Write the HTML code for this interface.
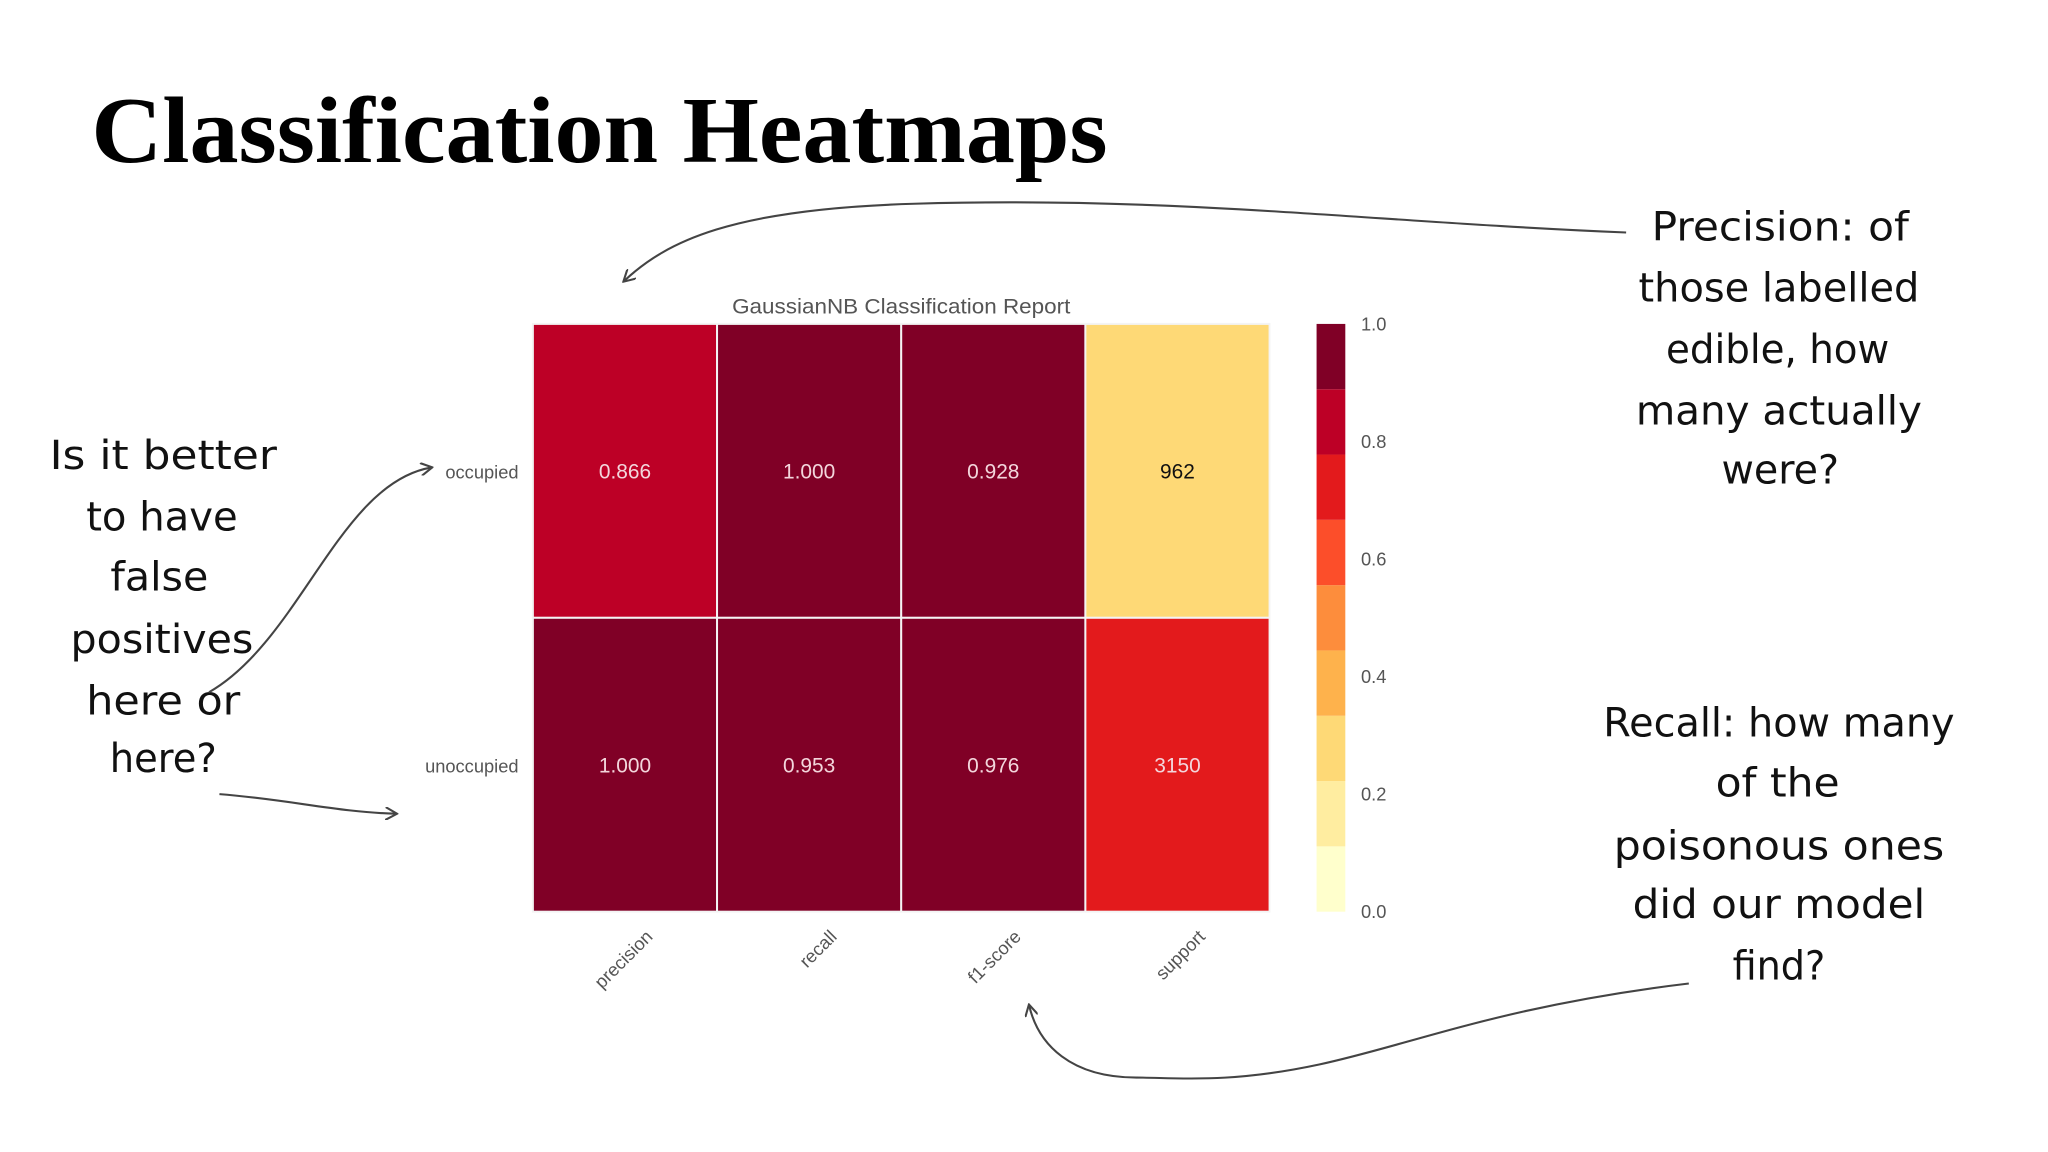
<!DOCTYPE html>
<html><head><meta charset="utf-8"><style>
html,body{margin:0;padding:0;background:#fff;}
svg{display:block;}
.hand{font-family:"DejaVu Sans","Liberation Sans",sans-serif;font-size:31px;fill:#fff;stroke:#111;stroke-width:0;}
.hand text{fill:#111;}
.ax{font-family:"Liberation Sans",sans-serif;fill:#555;}
</style></head><body>
<svg id="page" width="2048" height="1152" viewBox="0 0 1568 882" xmlns="http://www.w3.org/2000/svg">
<defs><marker id="ah" markerWidth="10" markerHeight="10" refX="8" refY="5" orient="auto" markerUnits="userSpaceOnUse"><path d="M0,0 L9,5 L0,10" fill="none" stroke="#444" stroke-width="1.6"/></marker></defs>
<text x="70" y="124" font-family="'Liberation Serif',serif" font-weight="bold" font-size="72" textLength="778" lengthAdjust="spacingAndGlyphs" fill="#000">Classification Heatmaps</text>

<g class="hand" text-anchor="middle">
<text x="1363" y="184" textLength="197" lengthAdjust="spacingAndGlyphs">Precision: of</text>
<text x="1362" y="231" textLength="215" lengthAdjust="spacingAndGlyphs">those labelled</text>
<text x="1361" y="278" textLength="171" lengthAdjust="spacingAndGlyphs">edible, how</text>
<text x="1362" y="325" textLength="219" lengthAdjust="spacingAndGlyphs">many actually</text>
<text x="1363" y="370" textLength="90" lengthAdjust="spacingAndGlyphs">were?</text>
</g>
<g class="hand" text-anchor="middle">
<text x="125" y="359" textLength="174" lengthAdjust="spacingAndGlyphs">Is it better</text>
<text x="124" y="406" textLength="116" lengthAdjust="spacingAndGlyphs">to have</text>
<text x="122" y="452" textLength="75" lengthAdjust="spacingAndGlyphs">false</text>
<text x="124" y="500" textLength="140" lengthAdjust="spacingAndGlyphs">positives</text>
<text x="125" y="547" textLength="118" lengthAdjust="spacingAndGlyphs">here or</text>
<text x="125" y="591" textLength="82" lengthAdjust="spacingAndGlyphs">here?</text>
</g>
<g class="hand" text-anchor="middle">
<text x="1362" y="564" textLength="269" lengthAdjust="spacingAndGlyphs">Recall: how many</text>
<text x="1361" y="610" textLength="95" lengthAdjust="spacingAndGlyphs">of the</text>
<text x="1362" y="658" textLength="253" lengthAdjust="spacingAndGlyphs">poisonous ones</text>
<text x="1362" y="703" textLength="224" lengthAdjust="spacingAndGlyphs">did our model</text>
<text x="1362" y="750" textLength="71" lengthAdjust="spacingAndGlyphs">find?</text>
</g>
<g fill="none" stroke="#444" stroke-width="1.6">
<path d="M1245,178 C1050,170 900,150 700,156 C560,160 510,185 478,215" marker-end="url(#ah)"/>
<path d="M160,530 C230,490 260,370 330,358" marker-end="url(#ah)"/>
<path d="M168,608 C220,612 260,622 303,623" marker-end="url(#ah)"/>
<path d="M1293,753 C1150,770 1080,800 1010,815 C940,830 900,825 870,825 C820,825 795,800 788,770" marker-end="url(#ah)"/>
</g>
<g id="chart"></g>
</svg>
<script>
const classes = ["occupied", "unoccupied"];
const metrics = ["precision", "recall", "f1-score", "support"];
const precisionVals = [0.866, 1.000];
const recallVals = [1.000, 0.953];
const f1Vals = [0.928, 0.976];
const supportVals = [962, 3150];
const cbTicks = ["0.0", "0.2", "0.4", "0.6", "0.8", "1.0"];
const palette = ["#ffffcc","#ffeda0","#fed976","#feb24c","#fd8d3c","#fc4e2a","#e31a1c","#bd0026","#800026"];
const supportScaleMax = 4300;

const NS = "http://www.w3.org/2000/svg";
const g = document.getElementById("chart");
const X0 = 408, X1 = 972, Y0 = 248, Y1 = 698;
const CB0 = 1008, CB1 = 1030;
const xPos = i => X0 + (X1 - X0) * i / metrics.length;
const yPos = j => Y0 + (Y1 - Y0) * j / classes.length;
const cbY = v => Y1 - (Y1 - Y0) * v;
function colorOf(v){ let k = Math.floor(v * palette.length); if (k >= palette.length) k = palette.length - 1; if (k < 0) k = 0; return palette[k]; }
function mk(tag, attrs, txt){ const e = document.createElementNS(NS, tag); for (const k in attrs) e.setAttribute(k, attrs[k]); if (txt !== undefined) e.textContent = txt; g.appendChild(e); return e; }

let t = mk("text", {x: 690, y: 240, "text-anchor": "middle", "font-size": 16, class: "ax", textLength: 259, lengthAdjust: "spacingAndGlyphs"}, "GaussianNB Classification Report");



const series = [precisionVals, recallVals, f1Vals, supportVals];
for (let j = 0; j < classes.length; j++) {
  for (let i = 0; i < metrics.length; i++) {
    const raw = series[i][j];
    const norm = i === 3 ? raw / supportScaleMax : raw;
    const c = colorOf(norm);
    const r = mk("rect", {x: xPos(i), y: yPos(j), width: xPos(i + 1) - xPos(i), height: yPos(j + 1) - yPos(j), fill: c, stroke: "#f4f4f4", "stroke-width": 1.5});
    
    
    const label = i === 3 ? String(raw) : raw.toFixed(3);
    const tx = mk("text", {x: (xPos(i) + xPos(i + 1)) / 2, y: (yPos(j) + yPos(j + 1)) / 2 + 6, "text-anchor": "middle", "font-size": 16, "font-family": "Liberation Sans, sans-serif", fill: norm < 0.45 ? "#111" : "#f3d6dc"}, label);
    
    
  }
  const yl = mk("text", {x: 397, y: (yPos(j) + yPos(j + 1)) / 2 + 6, "text-anchor": "end", "font-size": 14, class: "ax"}, classes[j]);
  
  
}
for (let i = 0; i < metrics.length; i++) {
  const cx = (xPos(i) + xPos(i + 1)) / 2 + 22, cy = 718;
  const xl = mk("text", {x: cx, y: cy, "text-anchor": "end", "font-size": 14, class: "ax", transform: "rotate(-45 " + cx + " " + cy + ")"}, metrics[i]);
  
  
}
for (let k = 0; k < palette.length; k++) {
  const a = k / palette.length, b = (k + 1) / palette.length;
  const band = mk("rect", {x: CB0, y: cbY(b), width: CB1 - CB0, height: cbY(a) - cbY(b), fill: palette[k]});
  
  
}
for (const s of cbTicks) {
  const v = parseFloat(s);
  const tl = mk("text", {x: 1042, y: cbY(v) + 5, "font-size": 14, class: "ax"}, s);
  
  
}
</script>
</body></html>
